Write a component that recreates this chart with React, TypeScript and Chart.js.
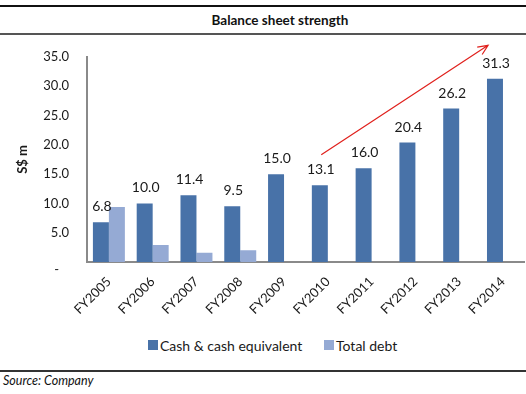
import React, { useEffect, useRef } from "react";
import { Chart, registerables } from "chart.js";

Chart.register(...registerables);

const categories = ["FY2005", "FY2006", "FY2007", "FY2008", "FY2009", "FY2010", "FY2011", "FY2012", "FY2013", "FY2014"];
const cashValues = [6.8, 10.0, 11.4, 9.5, 15.0, 13.1, 16.0, 20.4, 26.2, 31.3];
const debtValues: (number | null)[] = [9.4, 2.9, 1.6, 2.0, null, null, null, null, null, null];
const seriesNames = ["Cash & cash equivalent", "Total debt"];
const seriesColors = ["#4872a8", "#95aad4"];
const yMin = 0;
const yMax = 35;
const yStep = 5;
// arrow ends in category-index units (fractional) and value units
const arrowFrom = { position: 4.85, value: 18.3 };
const arrowTo = { position: 8.66, value: 37.0 };

const FONT = "Lato, 'Open Sans', sans-serif";

const valueLabels = {
  id: "valueLabels",
  afterDatasetsDraw(chart: any) {
    const meta = chart.getDatasetMeta(0);
    const ctx = chart.ctx;
    ctx.save();
    ctx.font = `14px ${FONT}`;
    ctx.fillStyle = "#1a1a1a";
    ctx.textAlign = "center";
    ctx.textBaseline = "middle";
    meta.data.forEach((bar: any, i: number) => {
      ctx.fillText(cashValues[i].toFixed(1), bar.x + 1, bar.y - 15.5);
    });
    ctx.restore();
  },
};

const trendArrow = {
  id: "trendArrow",
  afterDraw(chart: any) {
    const xs = chart.scales.x;
    const ys = chart.scales.y;
    const x1 = xs.getPixelForValue(arrowFrom.position);
    const y1 = ys.getPixelForValue(arrowFrom.value);
    const x2 = xs.getPixelForValue(arrowTo.position);
    const y2 = ys.getPixelForValue(arrowTo.value);
    const ctx = chart.ctx;
    const ang = Math.atan2(y2 - y1, x2 - x1);
    const head = 11;
    const spread = 0.42;
    ctx.save();
    ctx.strokeStyle = "#e0201c";
    ctx.lineWidth = 1.2;
    ctx.beginPath();
    ctx.moveTo(x1, y1);
    ctx.lineTo(x2, y2);
    ctx.moveTo(x2 - head * Math.cos(ang - spread), y2 - head * Math.sin(ang - spread));
    ctx.lineTo(x2, y2);
    ctx.lineTo(x2 - head * Math.cos(ang + spread), y2 - head * Math.sin(ang + spread));
    ctx.stroke();
    ctx.restore();
  },
};

function BalanceChart() {
  const ref = useRef<HTMLCanvasElement | null>(null);
  useEffect(() => {
    if (!ref.current) return;
    const chart = new Chart(ref.current, {
      type: "bar",
      data: {
        labels: categories,
        datasets: [
          {
            label: seriesNames[0],
            data: cashValues,
            backgroundColor: seriesColors[0],
            categoryPercentage: 0.73,
            barPercentage: 1.0,
          },
          {
            label: seriesNames[1],
            data: debtValues,
            backgroundColor: seriesColors[1],
            categoryPercentage: 0.73,
            barPercentage: 1.0,
          },
        ],
      },
      options: {
        responsive: false,
        animation: false,
        layout: { padding: { top: 21, right: 0, bottom: 0, left: 0 } },
        plugins: {
          title: { display: false },
          tooltip: { enabled: false },
          legend: { display: false },
        },
        scales: {
          x: {
            grid: { display: false, drawTicks: false },
            border: { display: true, color: "#8a8a8a", width: 2 },
            ticks: {
              font: { family: FONT, size: 13 },
              color: "#1a1a1a",
              minRotation: 45,
              maxRotation: 45,
              padding: 12,
              autoSkip: false,
            },
            afterFit(scale: any) {
              scale.height = 68;
            },
          },
          y: {
            min: yMin,
            max: yMax,
            grid: { display: false, drawTicks: false },
            border: { display: true, color: "#8a8a8a", width: 2 },
            ticks: {
              stepSize: yStep,
              autoSkip: false,
              font: { family: FONT, size: 13 },
              color: "#1a1a1a",
              padding: 18,
              callback: (v: any) => (Number(v) === 0 ? ["", "-   "] : Number(v).toFixed(1)),
            },
            title: {
              display: true,
              text: "S$ m",
              font: { family: FONT, size: 13, weight: "bold" },
              color: "#1a1a1a",
              padding: { top: 15, bottom: 0 },
            },
            afterFit(scale: any) {
              scale.width = 87;
              scale.paddingTop = 0;
              scale.paddingBottom = 0;
            },
          },
        },
      },
      plugins: [valueLabels, trendArrow],
    });
    return () => chart.destroy();
  }, []);
  return (
    <canvas
      ref={ref}
      width={526}
      height={294}
      style={{ position: "absolute", left: 0, top: 36, width: 526, height: 294 }}
    />
  );
}

function Legend() {
  const positions = [148, 324];
  return (
    <>
      {seriesNames.map((name, i) => (
        <div
          key={name}
          style={{
            position: "absolute",
            left: positions[i],
            top: 336,
            height: 18,
            display: "flex",
            alignItems: "center",
            fontSize: 14,
            color: "#1a1a1a",
            whiteSpace: "nowrap",
          }}
        >
          <span style={{ display: "inline-block", width: 10, height: 10, background: seriesColors[i], marginRight: 2 }} />
          <span>{name}</span>
        </div>
      ))}
    </>
  );
}

export default function App() {
  return (
    <div
      style={{
        position: "fixed",
        left: 0,
        top: 0,
        width: 526,
        height: 394,
        background: "#fff",
        overflow: "hidden",
        fontFamily: FONT,
      }}
    >
      <div style={{ position: "absolute", left: 0, top: 5, width: 526, height: 2, background: "#111" }} />
      <div
        style={{
          position: "absolute",
          left: 140,
          top: 11,
          width: 280,
          textAlign: "center",
          fontWeight: "bold",
          fontSize: 13.5,
          lineHeight: "18px",
          color: "#111",
        }}
      >
        Balance sheet strength
      </div>
      <div style={{ position: "absolute", left: 0, top: 33, width: 526, height: 2, background: "#555" }} />
      <BalanceChart />
      <Legend />
      <div style={{ position: "absolute", left: 0, top: 370, width: 526, height: 2, background: "#333" }} />
      <div
        style={{
          position: "absolute",
          left: 3,
          top: 373,
          fontStyle: "italic",
          fontSize: 12.5,
          lineHeight: "16px",
          color: "#111",
        }}
      >
        Source: Company
      </div>
    </div>
  );
}
